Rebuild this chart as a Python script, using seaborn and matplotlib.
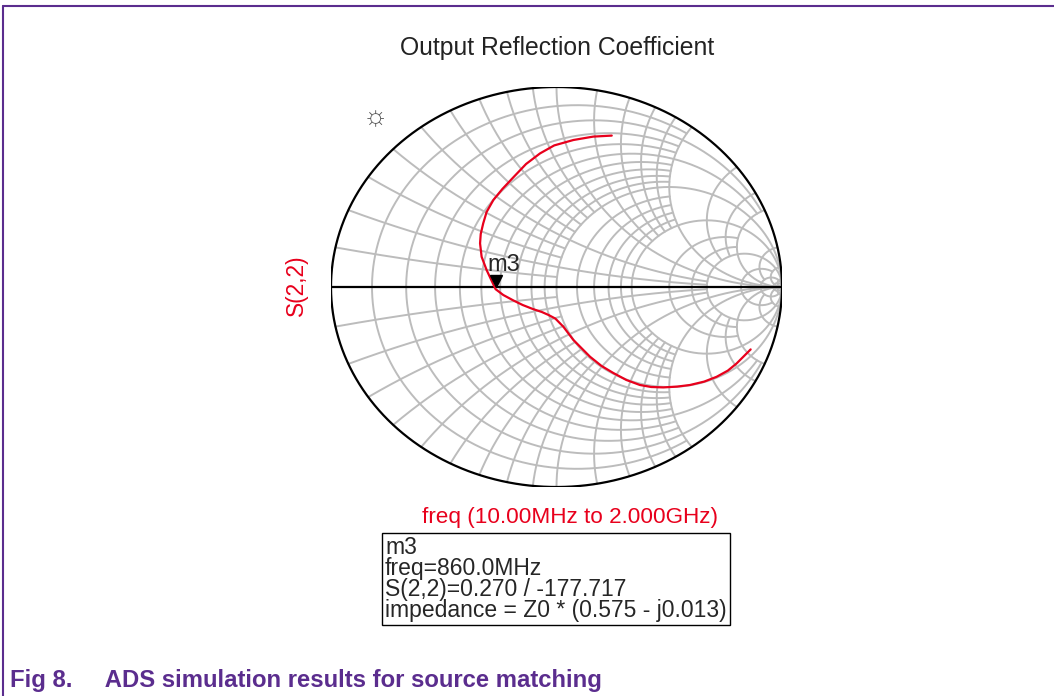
import numpy as np
import matplotlib
matplotlib.use("Agg")
import matplotlib.pyplot as plt
import seaborn as sns
import pandas as pd

gamma_re = [0.245, 0.163, 0.075, -0.010, -0.073, -0.135, -0.190, -0.240, -0.280,
            -0.310, -0.325, -0.336, -0.339, -0.332, -0.310, -0.270, -0.236, -0.190,
            -0.150, -0.105, -0.065, -0.035, -0.005, 0.030, 0.075, 0.149, 0.200,
            0.252, 0.310, 0.370, 0.420, 0.474, 0.535, 0.592, 0.655, 0.710, 0.760,
            0.799, 0.861]
gamma_im = [0.757, 0.752, 0.735, 0.708, 0.668, 0.615, 0.550, 0.490, 0.435,
            0.375, 0.318, 0.265, 0.218, 0.151, 0.085, -0.011, -0.040, -0.068,
            -0.090, -0.110, -0.125, -0.140, -0.158, -0.198, -0.265, -0.349, -0.395,
            -0.430, -0.465, -0.490, -0.500, -0.502, -0.498, -0.490, -0.473, -0.449,
            -0.418, -0.382, -0.312]

# marker m3
m3_mag = 0.270
m3_ang = -177.717
m3_lines = ["m3", "freq=860.0MHz", "S(2,2)=0.270 / -177.717",
            "impedance = Z0 * (0.575 - j0.013)"]

# smith chart grid: resistance circles / reactance arcs and how far each runs
r_vals = [0.1, 0.2, 0.3, 0.4, 0.5, 0.6, 0.7, 0.8, 0.9, 1.0, 1.2, 1.4, 1.6, 1.8,
          2.0, 3.0, 4.0, 5.0, 10, 20, 50]
r_xmax = [2, 5, 2, 2, 5, 2, 2, 2, 2, np.inf, 2, 2, 2, 2,
          np.inf, 5, 5, np.inf, 20, np.inf, np.inf]
x_vals = r_vals
x_rmax = [1, 5, 1, 1, 5, 1, 1, 1, 1, np.inf, 2, 2, 2, 2,
          np.inf, 5, 5, np.inf, 20, np.inf, np.inf]

purple = "#5b2d8e"
grid_c = "#bcbcbc"
red = "#e8001c"

sns.set_style("white")
plt.rcParams["font.family"] = ["Liberation Sans", "DejaVu Sans"]

fig = plt.figure(figsize=(10.54, 6.96), dpi=100)
ax = fig.add_axes([331 / 1054, 1 - 487 / 696, 451 / 1054, 400 / 696])
ax.set_xlim(-1, 1)
ax.set_ylim(-1, 1)
ax.axis("off")


def to_gamma(z):
    g = (z - 1) / (z + 1)
    return g.real, g.imag


# resistance circles
for r, xm in zip(r_vals, r_xmax):
    t = np.linspace(-np.arctan(xm), np.arctan(xm), 600)
    gx, gy = to_gamma(r + 1j * np.tan(t))
    ax.plot(gx, gy, color=grid_c, lw=1.4, zorder=1)

# reactance arcs
for xv, rm in zip(x_vals, x_rmax):
    t = np.linspace(0, np.arctan(rm) - 1e-6, 600)
    for s in (1, -1):
        gx, gy = to_gamma(np.tan(t) + 1j * s * xv)
        ax.plot(gx, gy, color=grid_c, lw=1.4, zorder=1)

# outer circle and real axis
th = np.linspace(0, 2 * np.pi, 800)
ax.plot(np.cos(th), np.sin(th), color="black", lw=1.6, zorder=2)
ax.plot([-1, 1], [0, 0], color="black", lw=1.6, zorder=2)

# trace
df = pd.DataFrame({"re": gamma_re, "im": gamma_im})
sns.lineplot(data=df, x="re", y="im", sort=False, estimator=None, color=red,
             lw=1.6, ax=ax, zorder=3)

# marker
mx = m3_mag * np.cos(np.deg2rad(m3_ang))
my = m3_mag * np.sin(np.deg2rad(m3_ang))
ax.plot([mx], [my + 0.04], marker="v", color="black", ms=9, zorder=4)
ax.text(mx + 0.035, my + 0.065, "m3", fontsize=17, ha="center", va="bottom", zorder=4)
ax.set_xlabel("")
ax.set_ylabel("")

# texts
fig.text(557 / 1054, 1 - 48 / 696, "Output Reflection Coefficient", fontsize=17.8,
         ha="center", va="center", color="#222222")
fig.text(296 / 1054, 1 - 285 / 696, "S(2,2)", fontsize=16.4, color=red,
         rotation=90, ha="center", va="center")
fig.text(570 / 1054, 1 - 518 / 696, "freq (10.00MHz to 2.000GHz)", fontsize=16.2,
         color=red, ha="center", va="center")
fig.text(385 / 1054, 1 - 579 / 696, "\n".join(m3_lines), fontsize=16.5,
         ha="left", va="center", linespacing=0.88,
         bbox=dict(boxstyle="square,pad=0.15", fc="white", ec="black", lw=1.0))
fig.text(375 / 1054, 1 - 118 / 696, "\u263c", fontsize=20, color="#555555",
         ha="center", va="center")

fig.text(10 / 1054, 1 - 680 / 696, "Fig 8.     ADS simulation results for source matching",
         fontsize=17.2, fontweight="bold", color=purple, ha="left", va="center")

# page frame
fig.add_artist(plt.Line2D([3 / 1054, 1], [1 - 6 / 696] * 2, color=purple, lw=1.5))
fig.add_artist(plt.Line2D([3 / 1054] * 2, [0, 1 - 6 / 696], color=purple, lw=1.5))

fig.savefig("out.png", dpi=100)
